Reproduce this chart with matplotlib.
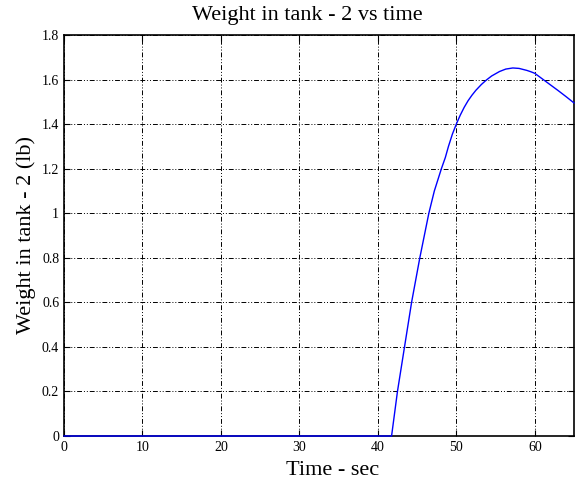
import matplotlib
matplotlib.use("Agg")
import matplotlib.pyplot as plt

# Weight in tank 2 over time
time_sec = [0, 41.75, 42.5, 43.4, 44.3, 45.35, 46.5, 47.2, 48.1, 48.6, 49.0,
            49.5, 50.0, 50.5, 51.0, 51.5, 52.0, 52.5, 53.2, 53.8, 54.5, 55.5,
            56.3, 57.2, 58.0, 59.0, 59.5, 60.0, 61.0, 62.0, 63.0, 64.0, 65.0]
weight_lb = [0, 0, 0.2, 0.4, 0.6, 0.8, 1.0, 1.1, 1.2, 1.25, 1.3,
             1.355, 1.4, 1.44, 1.475, 1.505, 1.53, 1.552, 1.578, 1.597, 1.616, 1.636,
             1.647, 1.652, 1.65, 1.641, 1.635, 1.628, 1.602, 1.576, 1.55, 1.523, 1.495]

x_ticks = [0, 10, 20, 30, 40, 50, 60]
y_ticks = [0, 0.2, 0.4, 0.6, 0.8, 1.0, 1.2, 1.4, 1.6, 1.8]
y_tick_labels = ["0", "0.2", "0.4", "0.6", "0.8", "1", "1.2", "1.4", "1.6", "1.8"]

plt.rcParams["font.family"] = ["Liberation Serif", "DejaVu Serif"]

fig = plt.figure(figsize=(5.76, 4.82), dpi=100)
ax = fig.add_axes([64 / 576, 1 - 436 / 482, 510 / 576, 401 / 482])

ax.plot(time_sec, weight_lb, color="#0000ff", lw=1.0, clip_on=False, zorder=3)

ax.set_xlim(0, 65)
ax.set_ylim(0, 1.8)
ax.set_xticks(x_ticks)
ax.set_yticks(y_ticks)
ax.set_yticklabels(y_tick_labels)
ax.tick_params(direction="in", top=True, right=True, labelsize=10, length=4, width=0.8)
ax.grid(True, color="black", linestyle=(0, (5, 2, 1, 2, 1, 2)), linewidth=0.7)
for s in ax.spines.values():
    s.set_linewidth(1.2)

# MATLAB-ish placement: title a bit left of centre, xlabel a bit right
ax.set_title("Weight in tank - 2 vs time", fontsize=16, x=0.478, pad=11)
ax.set_xlabel("Time - sec", fontsize=16)
ax.xaxis.set_label_coords(0.526, -0.062)
ax.set_ylabel("Weight in tank - 2 (lb)", fontsize=16, labelpad=4)

fig.savefig("out.png", dpi=100)
